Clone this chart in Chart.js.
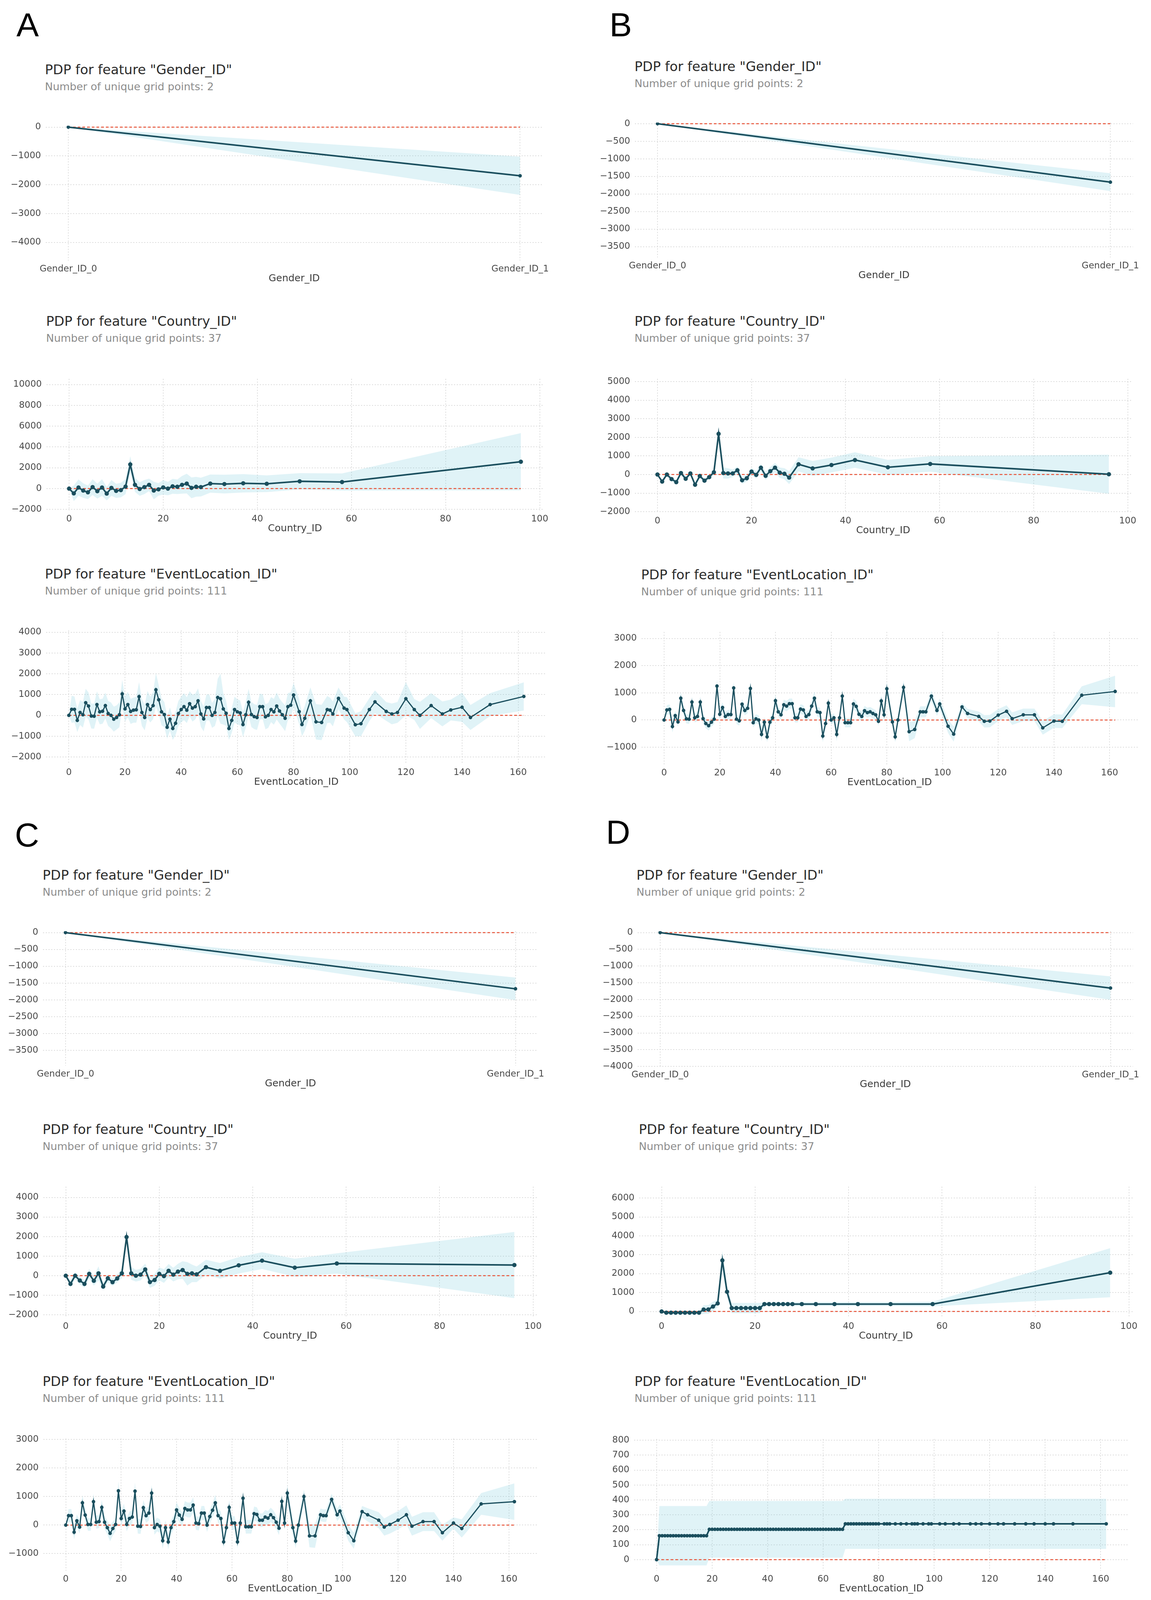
<!DOCTYPE html>
<html>
<head>
<meta charset="utf-8">
<script src="https://cdn.jsdelivr.net/npm/chart.js@4.4.1/dist/chart.umd.min.js"></script>
<style>
  body { margin: 0; width: 2946px; background: #fff; position: relative; overflow: hidden; }
  .panel { position: absolute; font-family: "Liberation Sans", sans-serif; font-size: 86px; line-height: 1; color: #000; }
  .ttl { position: absolute; font-family: "DejaVu Sans", sans-serif; font-size: 34px; line-height: 1; color: #2b2b2b; white-space: nowrap; }
  .sub { position: absolute; font-family: "DejaVu Sans", sans-serif; font-size: 27px; line-height: 1; color: #8c8c8c; white-space: nowrap; }
  canvas { position: absolute; }
</style>
</head>
<body>
<script>
// ---- data ----
const genderX = [0, 1];
const genderTickLabels = ['Gender_ID_0', 'Gender_ID_1'];
const aGenderMean = [0, -1690], aGenderStd = [0, 665];
const bGenderMean = [0, -1665], bGenderStd = [0, 255];
const cGenderMean = [0, -1672], cGenderStd = [0, 335];
const dGenderMean = [0, -1658], dGenderStd = [0, 350];

const countryX = [0, 1, 2, 3, 4, 5, 6, 7, 8, 9, 10, 11, 12, 13, 14, 15, 16, 17, 18, 19, 20,
  21, 22, 23, 24, 25, 26, 27, 28, 30, 33, 37, 42, 49, 58, 96];
const aCountryMean = [0, -460, 100, -190, -360, 145, -250, 100, -480, 70, -220, -145, 190, 2320, 360, -40, 145, 360,
  -190, -70, 115, 0, 220, 175, 360, 480, 70, 175, 145, 480, 435, 510, 465, 700, 630, 2580];
const aCountryStd = [0, 750, 780, 700, 650, 760, 720, 800, 650, 760, 680, 700, 720, 800, 680, 650, 680, 600,
  850, 600, 700, 650, 720, 700, 850, 950, 1000, 950, 900, 870, 900, 880, 800, 780, 830, 2750];
const bCountryMean = [0, -380, 0, -245, -410, 80, -230, 60, -550, -80, -330, -140, 120, 2190, 80, 60, 60, 230,
  -310, -200, 160, -20, 370, -70, 180, 370, 100, 40, -165, 550, 330, 510, 780, 390, 570, 15];
const bCountryStd = [0, 120, 100, 120, 130, 120, 120, 130, 130, 130, 120, 120, 150, 400, 300, 280, 200, 200,
  200, 180, 200, 200, 220, 220, 230, 250, 280, 300, 350, 380, 400, 400, 420, 400, 420, 1050];
const cCountryMean = [0, -420, 0, -245, -420, 95, -260, 120, -555, -130, -330, -140, 120, 1975, 120, 0, 55, 320,
  -325, -220, 95, -20, 250, 55, 210, 290, 95, 120, 70, 435, 250, 530, 770, 410, 625, 545];
const cCountryStd = [0, 200, 180, 200, 200, 250, 250, 360, 200, 200, 200, 200, 250, 330, 330, 300, 300, 300,
  300, 300, 330, 350, 350, 350, 400, 450, 600, 450, 400, 380, 400, 420, 430, 460, 520, 1690];
const dCountryMean = [0, -65, -65, -65, -65, -65, -65, -65, -65, 100, 105, 260, 425, 2700, 1040, 180, 180, 180,
  180, 180, 180, 180, 390, 390, 390, 390, 390, 390, 390, 390, 390, 390, 390, 390, 390, 2050];
const dCountryStd = [0, 100, 100, 100, 100, 100, 100, 100, 100, 230, 230, 250, 200, 500, 300, 270, 270, 270,
  270, 270, 270, 270, 100, 100, 100, 100, 100, 100, 100, 100, 100, 100, 100, 100, 120, 1300];

const eventX = [0, 1, 2, 3, 4, 5, 6, 7, 8, 9, 10, 11, 12, 13, 14, 15, 16, 17, 18, 19,
  20, 21, 22, 23, 24, 25, 26, 27, 28, 29, 30, 31, 32, 33, 34, 35, 36, 37, 38, 39,
  40, 41, 42, 43, 44, 45, 46, 47, 48, 49, 50, 51, 52, 53, 54, 55, 56, 57, 58, 59,
  60, 61, 62, 63, 64, 65, 66, 67, 68, 69, 70, 71, 72, 73, 74, 75, 76, 77, 78, 79,
  80, 82, 83, 84, 86, 88, 90, 92, 93, 94, 96, 98, 99, 102, 104, 107, 109, 113, 115, 117,
  120, 123, 125, 129, 133, 136, 140, 143, 150, 162];
const aEventMean = [0, 290, 290, -240, 140, 30, 610, 450, -30, -40,
  520, 170, 200, 470, 90, 0, -180, -100, 30, 1030,
  310, 520, 190, 250, 270, 900, 140, -100, 520, 280,
  470, 1230, 750, 170, 40, -570, -180, -630, -380, 90,
  280, 420, 250, 560, 350, 420, 700, 70, -170, 380,
  380, 0, 140, 860, 800, 310, 100, -630, -240, 280,
  170, 120, -440, 30, 630, 40, -60, -100, 420, 420,
  -70, 0, 280, 170, 450, 210, 30, -140, 420, 490,
  980, 180, -440, -140, 700, -310, -340, 280, 250, 70,
  820, 350, 280, -450, -400, 280, 650, 190, 70, 140,
  800, 280, 0, 470, 70, 260, 390, -100, 520, 910];
const aEventStd = [0, 650, 620, 560, 600, 620, 670, 650, 600, 600,
  630, 600, 600, 620, 600, 620, 600, 580, 600, 680,
  600, 620, 600, 600, 620, 700, 650, 620, 650, 620,
  650, 800, 700, 650, 600, 550, 560, 550, 560, 600,
  620, 650, 620, 600, 650, 620, 600, 620, 600, 620,
  620, 600, 650, 900, 1200, 750, 600, 550, 600, 620,
  600, 600, 600, 620, 650, 600, 600, 600, 620, 600,
  600, 600, 600, 620, 650, 600, 600, 620, 650, 620,
  580, 600, 560, 600, 650, 850, 850, 650, 600, 600,
  520, 550, 600, 550, 600, 550, 550, 450, 500, 500,
  800, 500, 650, 600, 600, 500, 700, 600, 550, 680];
const bEventMean = [0, 370, 390, -240, 160, -70, 800, 350, 40, 30,
  660, 80, 130, 660, 50, -130, -210, -80, 30, 1250,
  210, 460, 130, 200, 200, 1180, 30, -30, 580, 350,
  430, 1160, -100, 40, 0, -530, -80, -620, -80, 80,
  710, 300, 190, 560, 510, 600, 600, 80, 80, 400,
  370, 130, 200, 510, 800, 300, 270, -590, -130, 620,
  0, 80, -530, 80, 880, -100, -100, -100, 590, 500,
  210, 130, 340, 270, 300, 240, 190, -50, 700, 190,
  1150, -70, -620, 0, 1200, -430, -350, 300, 300, 300,
  880, 350, 590, -230, -520, 480, 240, 130, -50, -40,
  180, 320, 50, 190, 190, -290, -40, -50, 910, 1050];
const bEventStd = [0, 180, 180, 220, 180, 180, 230, 180, 170, 170,
  200, 170, 170, 200, 170, 180, 180, 170, 170, 230,
  180, 190, 170, 170, 170, 230, 180, 180, 200, 180,
  190, 250, 180, 170, 170, 250, 180, 200, 180, 170,
  220, 180, 180, 190, 190, 190, 190, 170, 170, 180,
  180, 170, 170, 200, 250, 180, 180, 230, 180, 200,
  170, 170, 250, 170, 250, 170, 170, 170, 200, 200,
  180, 170, 180, 180, 180, 180, 170, 170, 210, 180,
  250, 200, 200, 180, 250, 350, 320, 200, 200, 200,
  200, 200, 200, 250, 280, 150, 170, 180, 230, 230,
  220, 220, 230, 230, 230, 250, 250, 250, 330, 580];
const cEventMean = [0, 330, 330, -250, 150, -70, 780, 350, 20, 20,
  820, 100, 120, 620, 100, -90, -290, -120, 20, 1200,
  230, 490, 20, 230, 280, 1190, -40, -50, 610, 330,
  420, 1120, -90, 20, -40, -550, -90, -590, -90, 120,
  530, 350, 200, 580, 530, 530, 700, 70, 50, 420,
  420, 0, 300, 520, 780, 330, 230, -590, -90, 620,
  70, 70, -590, 70, 940, -60, -60, -60, 400, 370,
  170, 170, 280, 240, 360, 260, 100, -110, 830, 70,
  1120, -90, -560, 0, 1000, -380, -380, 360, 330, 330,
  900, 360, 490, -270, -550, 470, 360, 170, -70, 20,
  170, 360, -40, 120, 120, -270, 70, -120, 740, 820];
const cEventStd = [0, 230, 230, 250, 230, 230, 260, 230, 220, 220,
  280, 230, 230, 260, 230, 240, 280, 240, 230, 330,
  240, 260, 240, 240, 240, 300, 260, 260, 270, 250,
  260, 280, 250, 240, 240, 280, 250, 260, 250, 240,
  270, 250, 250, 260, 260, 260, 270, 240, 240, 250,
  250, 240, 240, 260, 280, 250, 240, 220, 240, 250,
  240, 240, 230, 240, 250, 240, 240, 240, 250, 250,
  240, 240, 250, 250, 250, 250, 240, 240, 270, 240,
  280, 260, 260, 240, 250, 400, 420, 220, 220, 220,
  200, 220, 230, 280, 280, 200, 230, 280, 300, 320,
  320, 330, 330, 330, 330, 280, 200, 320, 380, 640];
const dEventMean = [0, 160, 160, 160, 160, 160, 160, 160, 160, 160,
  160, 160, 160, 160, 160, 160, 160, 160, 160, 203,
  203, 203, 203, 203, 203, 203, 203, 203, 203, 203,
  203, 203, 203, 203, 203, 203, 203, 203, 203, 203,
  203, 203, 203, 203, 203, 203, 203, 203, 203, 203,
  203, 203, 203, 203, 203, 203, 203, 203, 203, 203,
  203, 203, 203, 203, 203, 203, 203, 203, 240, 240,
  240, 240, 240, 240, 240, 240, 240, 240, 240, 240,
  240, 240, 240, 240, 240, 240, 240, 240, 240, 240,
  240, 240, 240, 240, 240, 240, 240, 240, 240, 240,
  240, 240, 240, 240, 240, 240, 240, 240, 240, 240];
const dEventStd = [0, 199, 199, 199, 199, 199, 199, 199, 199, 199,
  199, 199, 199, 199, 199, 199, 199, 199, 199, 190,
  190, 190, 190, 190, 190, 190, 190, 190, 190, 190,
  190, 190, 190, 190, 190, 190, 190, 190, 190, 190,
  190, 190, 190, 190, 190, 190, 190, 190, 190, 190,
  190, 190, 190, 190, 190, 190, 190, 190, 190, 190,
  190, 190, 190, 190, 190, 190, 190, 190, 168, 168,
  168, 168, 168, 168, 168, 168, 168, 168, 168, 168,
  168, 168, 168, 168, 168, 168, 168, 168, 168, 168,
  168, 168, 168, 168, 168, 168, 168, 168, 168, 168,
  168, 168, 168, 168, 168, 168, 168, 168, 168, 168];

// tick values
const countryXTicks = [0, 20, 40, 60, 80, 100];
const eventXTicks = [0, 20, 40, 60, 80, 100, 120, 140, 160];
const yTicksGenderA = [0, -1000, -2000, -3000, -4000];
const yTicksGenderBC = [0, -500, -1000, -1500, -2000, -2500, -3000, -3500];
const yTicksGenderD = [0, -500, -1000, -1500, -2000, -2500, -3000, -3500, -4000];
const yTicksCountryA = [-2000, 0, 2000, 4000, 6000, 8000, 10000];
const yTicksCountryB = [-2000, -1000, 0, 1000, 2000, 3000, 4000, 5000];
const yTicksCountryC = [-2000, -1000, 0, 1000, 2000, 3000, 4000];
const yTicksCountryD = [0, 1000, 2000, 3000, 4000, 5000, 6000];
const yTicksEventA = [-2000, -1000, 0, 1000, 2000, 3000, 4000];
const yTicksEventBC = [-1000, 0, 1000, 2000, 3000];
const yTicksEventD = [0, 100, 200, 300, 400, 500, 600, 700, 800];

// ---- styling / layout ----
Chart.defaults.font.family = '"DejaVu Sans", sans-serif';
const LINE = '#1A4E5D';
const ZERO = '#E8553A';
const BAND = 'rgba(102,194,215,0.2)';
const GRID = '#d2d2d2';
const TICK = '#4a4a4a';

// layout below is in figure coordinates (2946 x 5542); the window is shorter,
// so vertical positions are squeezed to fit what the browser actually shows
const FIG_H = 5542;
const KY = Math.min(1, (window.innerHeight || FIG_H) / FIG_H);
const sy = v => Math.round(v * KY);
document.body.style.height = sy(FIG_H) + 'px';

const YW = 110, PT = 20, PR = 90;
const XH = Math.round(74 * KY) + 6;
const XPAD = Math.round(11 * KY);
const SUB_GAP = 46; // title cap top -> subtitle cap top, screen px

const gX = [-0.05, 1.05], cX = [-4.8, 100.8], eX = [-8.1, 170.1];

const letters = [['A', 42, 42], ['B', 1560, 42], ['C', 38, 2848], ['D', 1551, 2838]];

const panels = [
  { f: 'Gender_ID', n: 2, xs: genderX, m: aGenderMean, s: aGenderStd, xr: gX, xt: genderX, xl: genderTickLabels,
    yr: [-4632, 49], yt: yTicksGenderA, box: [117, 428, 1389, 902], t: [115, 231], lw: 4, pr: 4.5 },
  { f: 'Country_ID', n: 37, xs: countryX, m: aCountryMean, s: aCountryStd, xr: cX, xt: countryXTicks,
    yr: [-2110, 10545], yt: yTicksCountryA, box: [119, 1304, 1391, 1768], t: [118, 1103], lw: 4, pr: 5.5 },
  { f: 'EventLocation_ID', n: 111, xs: eventX, m: aEventMean, s: aEventStd, xr: eX, xt: eventXTicks,
    yr: [-2340, 4085], yt: yTicksEventA, box: [118, 2176, 1399, 2646], t: [115, 1978], lw: 3, pr: 4.5 },
  { f: 'Gender_ID', n: 2, xs: genderX, m: bGenderMean, s: bGenderStd, xr: gX, xt: genderX, xl: genderTickLabels,
    yr: [-3808, 32], yt: yTicksGenderBC, box: [1625, 417, 2900, 891], t: [1624, 221], lw: 4, pr: 4.5 },
  { f: 'Country_ID', n: 37, xs: countryX, m: bCountryMean, s: bCountryStd, xr: cX, xt: countryXTicks,
    yr: [-2045, 5150], yt: yTicksCountryB, box: [1625, 1304, 2896, 1775], t: [1624, 1103], lw: 4, pr: 5.5 },
  { f: 'EventLocation_ID', n: 111, xs: eventX, m: bEventMean, s: bEventStd, xr: eX, xt: eventXTicks,
    yr: [-1637, 3240], yt: yTicksEventBC, box: [1642, 2181, 2912, 2648], t: [1641, 1981], lw: 3, pr: 4.5 },
  { f: 'Gender_ID', n: 2, xs: genderX, m: cGenderMean, s: cGenderStd, xr: gX, xt: genderX, xl: genderTickLabels,
    yr: [-3956, 42], yt: yTicksGenderBC, box: [110, 3218, 1377, 3691], t: [109, 3021], lw: 4, pr: 4.5 },
  { f: 'Country_ID', n: 37, xs: countryX, m: cCountryMean, s: cCountryStd, xr: cX, xt: countryXTicks,
    yr: [-2160, 4550], yt: yTicksCountryC, box: [111, 4102, 1374, 4565], t: [109, 3902], lw: 4, pr: 5.5 },
  { f: 'EventLocation_ID', n: 111, xs: eventX, m: cEventMean, s: cEventStd, xr: eX, xt: eventXTicks,
    yr: [-1600, 3030], yt: yTicksEventBC, box: [111, 4975, 1374, 5440], t: [109, 4775], lw: 3, pr: 4.5 },
  { f: 'Gender_ID', n: 2, xs: genderX, m: dGenderMean, s: dGenderStd, xr: gX, xt: genderX, xl: genderTickLabels,
    yr: [-4000, 42], yt: yTicksGenderD, box: [1632, 3218, 2900, 3694], t: [1629, 3021], lw: 4, pr: 4.5 },
  { f: 'Country_ID', n: 37, xs: countryX, m: dCountryMean, s: dCountryStd, xr: cX, xt: countryXTicks,
    yr: [-345, 6600], yt: yTicksCountryD, box: [1636, 4102, 2899, 4565], t: [1635, 3902], lw: 4, pr: 5.5 },
  { f: 'EventLocation_ID', n: 111, xs: eventX, m: dEventMean, s: dEventStd, xr: eX, xt: eventXTicks,
    yr: [-74, 808], yt: yTicksEventD, box: [1623, 4976, 2889, 5440], t: [1624, 4775], lw: 4, pr: 4.5 }
];

function minusFmt(v) {
  return v < 0 ? '\u2212' + Math.abs(v) : String(v);
}

function addText(cls, text, x, y) {
  const d = document.createElement('div');
  d.className = cls;
  d.textContent = text;
  d.style.left = x + 'px';
  d.style.top = y + 'px';
  document.body.appendChild(d);
}

function drawPdp(p) {
  const l = p.box[0], r = p.box[2];
  const t = sy(p.box[1]), b = sy(p.box[3]);
  const w = YW + (r - l) + PR;
  const h = PT + (b - t) + XH;
  const cv = document.createElement('canvas');
  cv.width = w; cv.height = h;
  cv.style.left = (l - YW) + 'px';
  cv.style.top = (t - PT) + 'px';
  cv.style.width = w + 'px';
  cv.style.height = h + 'px';
  document.body.appendChild(cv);

  // title block sits a little higher so the subtitle keeps clear of the plot
  const capTop = sy(p.t[1]) - 6;
  addText('ttl', 'PDP for feature "' + p.f + '"', p.t[0], capTop - 4);
  addText('sub', 'Number of unique grid points: ' + p.n, p.t[0], capTop + SUB_GAP - 3);

  const mean = p.xs.map((x, i) => ({ x: x, y: p.m[i] }));
  const upper = p.xs.map((x, i) => ({ x: x, y: p.m[i] + p.s[i] }));
  const lower = p.xs.map((x, i) => ({ x: x, y: p.m[i] - p.s[i] }));
  const zero = [{ x: p.xs[0], y: 0 }, { x: p.xs[p.xs.length - 1], y: 0 }];

  const gridOpts = { color: GRID, lineWidth: 1.5, drawTicks: false };
  const borderOpts = { display: false, dash: [3, 4] };

  new Chart(cv, {
    type: 'line',
    data: {
      datasets: [
        { data: mean, borderColor: LINE, borderWidth: p.lw, tension: 0,
          pointRadius: p.pr, pointBackgroundColor: LINE, pointBorderWidth: 0, order: 0 },
        { data: zero, borderColor: ZERO, borderWidth: 2.5, borderDash: [7, 5], pointRadius: 0, order: 1 },
        { data: upper, borderColor: 'rgba(0,0,0,0)', borderWidth: 0, pointRadius: 0,
          backgroundColor: BAND, fill: '+1', order: 2 },
        { data: lower, borderColor: 'rgba(0,0,0,0)', borderWidth: 0, pointRadius: 0, fill: false, order: 3 }
      ]
    },
    options: {
      responsive: false,
      animation: false,
      events: [],
      layout: { padding: { left: 0, top: PT, right: PR, bottom: 0 } },
      plugins: { legend: { display: false }, tooltip: { enabled: false } },
      scales: {
        x: {
          type: 'linear', min: p.xr[0], max: p.xr[1],
          grid: gridOpts, border: borderOpts,
          afterBuildTicks: s => { s.ticks = p.xt.map(v => ({ value: v })); },
          afterFit: s => { s.height = XH; },
          ticks: {
            padding: XPAD, color: TICK, font: { size: 23 }, maxRotation: 0, autoSkip: false,
            callback: (v, i) => p.xl ? p.xl[i] : minusFmt(v)
          },
          title: { display: true, text: p.f, color: '#3c3c3c', font: { size: 25 }, padding: { top: 0, bottom: 0 } }
        },
        y: {
          type: 'linear', min: p.yr[0], max: p.yr[1],
          grid: gridOpts, border: borderOpts,
          afterBuildTicks: s => { s.ticks = p.yt.map(v => ({ value: v })); },
          afterFit: s => { s.width = YW; },
          ticks: { padding: 12, color: TICK, font: { size: 23 }, autoSkip: false, callback: v => minusFmt(v) }
        }
      }
    }
  });
}

letters.forEach(([txt, x, capTop]) => addText('panel', txt, x, sy(capTop) - 11));
panels.forEach(drawPdp);
</script>
</body>
</html>
